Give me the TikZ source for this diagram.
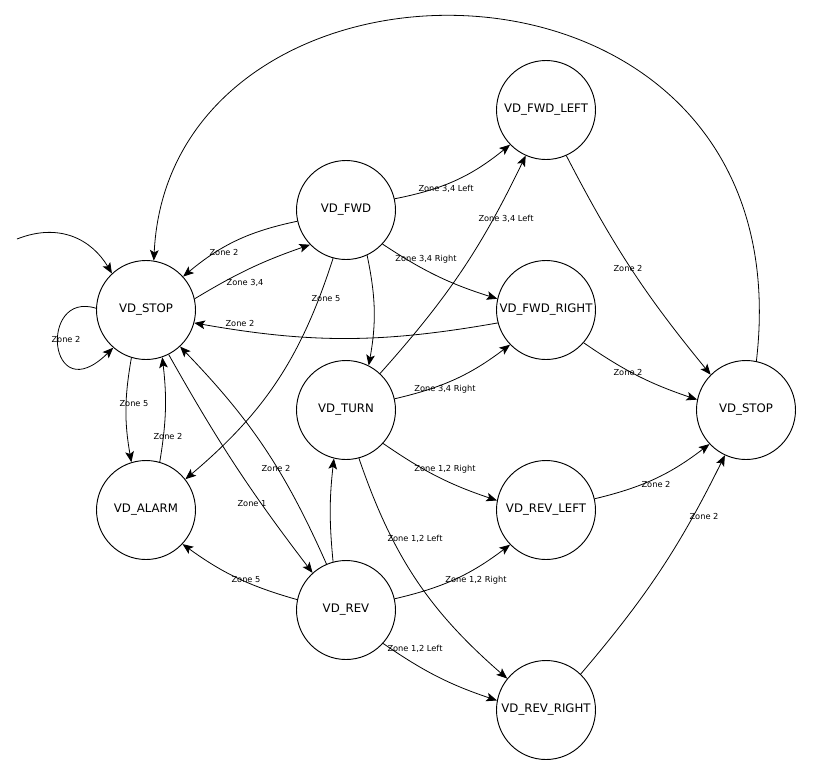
\documentclass[tikz,border=0pt]{standalone}
\usepackage{fontspec}
\newfontfamily\dv{DejaVu Sans}
\usetikzlibrary{arrows.meta}
\tikzset{
  st/.style={circle, draw, line width=0.7pt, minimum size=74.25pt, inner sep=0pt, font=\dv\fontsize{8.8}{10}\selectfont},
  edge/.style={draw, line width=0.6pt, -{Stealth[length=8pt,width=6.5pt,inset=1.8pt]}},
  lbl/.style={inner sep=0pt, font=\dv\fontsize{6.2}{7}\selectfont}
}
\begin{document}
\begin{tikzpicture}[x=0.75pt, y=-0.75pt]
\useasboundingbox[fill=white] (0,0) rectangle (815,776);
% states
\node[st] (stopL) at (146,310) {VD\_STOP};
\node[st] (alarm) at (146,510) {VD\_ALARM};
\node[st] (fwd) at (346,210) {VD\_FWD};
\node[st] (turn) at (346,410) {VD\_TURN};
\node[st] (rev) at (346,610) {VD\_REV};
\node[st] (fl) at (546,110) {VD\_FWD\_LEFT};
\node[st] (fr) at (546,310) {VD\_FWD\_RIGHT};
\node[st] (rl) at (546,510) {VD\_REV\_LEFT};
\node[st] (rr) at (546,710) {VD\_REV\_RIGHT};
\node[st] (stopR) at (746,410) {VD\_STOP};
\coordinate (init) at (17,239);
% connectors
\draw[edge] (init) .. controls (60,222) and (92,240) .. (stopL.133);
\draw[edge] (stopL.178) .. controls (38,290) and (48,412) .. (stopL.229);
\draw[edge] (fwd.193) to[bend right=14] (stopL.42);
\draw[edge] (stopL.13) to[bend left=6] (fwd.224);
\draw[edge] (fr.195) to[bend left=10] (stopL.345);
\draw[edge] (fwd.13) to[bend right=14] (fl.224);
\draw[edge] (turn.47) to[bend right=8] (fl.246);
\draw[edge] (fwd.317) to[bend right=8] (fr.167);
\draw[edge] (fwd.255) to[bend left=16] (alarm.38);
\draw[edge] (fwd.295) to[bend left=11] (turn.63);
\draw[edge] (turn.13) to[bend right=12] (fr.224);
\draw[edge] (turn.318) to[bend right=8] (rl.169);
\draw[edge] (turn.285) to[bend right=15] (rr.141);
\draw[edge] (rev.105) to[bend left=6] (turn.256);
\draw[edge] (rev.113) to[bend right=10] (stopL.313);
\draw[edge] (stopL.297) to[bend right=4] (rev.132);
\draw[edge] (stopL.253) to[bend right=10] (alarm.107);
\draw[edge] (alarm.74) to[bend right=8] (stopL.289);
\draw[edge] (rev.168) to[bend left=10] (alarm.317);
\draw[edge] (rev.13) to[bend right=12] (rl.224);
\draw[edge] (rev.318) to[bend right=8] (rr.169);
\draw[edge] (fl.294) to[bend right=6] (stopR.135);
\draw[edge] (fr.319) to[bend right=8] (stopR.168);
\draw[edge] (rl.13) to[bend right=12] (stopR.223);
\draw[edge] (rr.46) to[bend right=7] (stopR.245);
\draw[edge] (stopR.78) .. controls (808,-80) and (170,-80) .. (stopL.81);
% labels
\node[lbl] (l1) at (66,339) {Zone 2};
\node[lbl] (l2) at (224,252) {Zone 2};
\node[lbl] (l3) at (245,283) {Zone 3,4};
\node[lbl] (l4) at (240,323) {Zone 2};
\node[lbl] (l5) at (134,404) {Zone 5};
\node[lbl] (l6) at (168,436) {Zone 2};
\node[lbl] (l7) at (326,299) {Zone 5};
\node[lbl] (l8) at (276,468) {Zone 2};
\node[lbl] (l9) at (252,504) {Zone 1};
\node[lbl] (l10) at (246,580) {Zone 5};
\node[lbl] (l11) at (446,189) {Zone 3,4 Left};
\node[lbl] (l12) at (506,219) {Zone 3,4 Left};
\node[lbl] (l13) at (426,259) {Zone 3,4 Right};
\node[lbl] (l14) at (445,389) {Zone 3,4 Right};
\node[lbl] (l15) at (445,469) {Zone 1,2 Right};
\node[lbl] (l16) at (415,539) {Zone 1,2 Left};
\node[lbl] (l17) at (476,580) {Zone 1,2 Right};
\node[lbl] (l18) at (415,649) {Zone 1,2 Left};
\node[lbl] (l19) at (628,268) {Zone 2};
\node[lbl] (l20) at (628,372) {Zone 2};
\node[lbl] (l21) at (656,484) {Zone 2};
\node[lbl] (l22) at (704,516) {Zone 2};
\end{tikzpicture}
\end{document}
